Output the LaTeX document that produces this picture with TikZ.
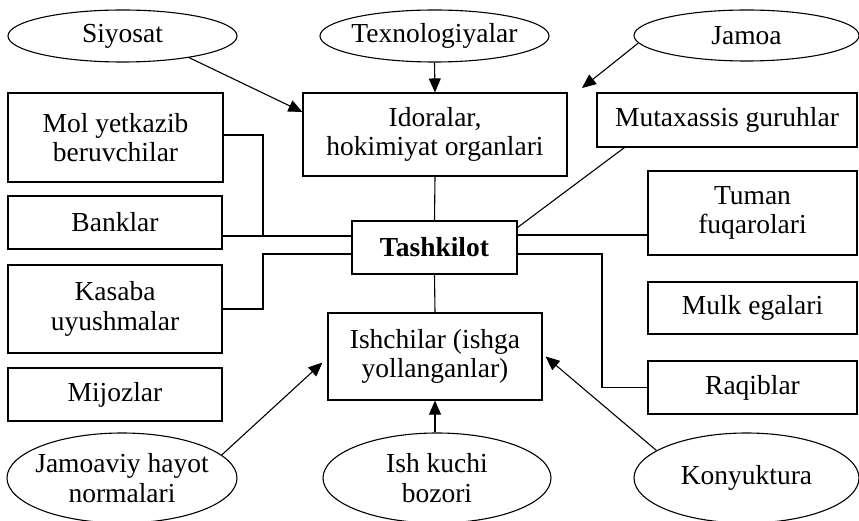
\documentclass[tikz,border=0pt]{standalone}
\usepackage{fontspec}
\setmainfont{Liberation Serif}
\usetikzlibrary{shapes.geometric,arrows.meta}

\begin{document}
\begin{tikzpicture}[x=1pt,y=-1pt,
  every node/.style={font=\fontsize{27.5}{29.5}\selectfont, align=center},
  line/.style={line width=1.1pt},
  arr/.style={line width=1.1pt, -{Triangle[length=14pt,width=12pt]}},
  box/.style={draw, rectangle, line width=1.1pt, inner sep=0pt},
  oval/.style={draw, ellipse, line width=1.1pt, inner sep=-8pt}]

\useasboundingbox (0,0) rectangle (859,521);

% outer influences (top row)
\node[oval, minimum width=229, minimum height=52] (siyosat) at (122.5,36) {Siyosat};
\node[oval, minimum width=229, minimum height=52] (texno) at (434.5,36) {Texnologiyalar};
\node[oval, minimum width=225, minimum height=51] (jamoa) at (746.5,35.5) {Jamoa};

% boxes
\node[box, minimum width=264, minimum height=83] (idoralar) at (435,134.5) {Idoralar,\\hokimiyat organlari};
\node[box, minimum width=260, minimum height=54] (mutax) at (727,120) {Mutaxassis guruhlar};
\node[box, minimum width=215, minimum height=89] (mol) at (115.5,137.5) {Mol yetkazib\\beruvchilar};
\node[box, minimum width=214, minimum height=53] (banklar) at (115,222.5) {Banklar};
\node[box, minimum width=214, minimum height=88] (kasaba) at (115,309) {Kasaba\\uyushmalar};
\node[box, minimum width=214, minimum height=53] (mijoz) at (115,394.5) {Mijozlar};
\node[box, minimum width=165, minimum height=53] (tashkilot) at (434.5,247.5) {\textbf{Tashkilot}};
\node[box, minimum width=214, minimum height=87] (ishchi) at (435,356.5) {Ishchilar (ishga\\yollanganlar)};
\node[box, minimum width=209, minimum height=84] (tuman) at (752.5,213) {Tuman\\fuqarolari};
\node[box, minimum width=209, minimum height=52] (mulk) at (752.5,308) {Mulk egalari};
\node[box, minimum width=209, minimum height=53] (raqib) at (752.5,387.5) {Raqiblar};

% outer influences (bottom row)
\node[oval, minimum width=230, minimum height=90] (jamoaviy) at (122,478) {Jamoaviy hayot\\normalari};
\node[oval, minimum width=228, minimum height=90] (ishkuchi) at (437,478) {Ish kuchi\\bozori};
\node[oval, minimum width=225, minimum height=90] (konyuk) at (746.5,478) {Konyuktura};

% junction points of the wiring
\coordinate (jtip) at (582,88);
\coordinate (L1) at (263,236);
\coordinate (L2) at (263,254);
\coordinate (R0) at (600,235);
\coordinate (R1) at (602,254);

% arrows into the offices
\draw[arr] (siyosat.-18) -- ([yshift=22.5pt]idoralar.west);
\draw[arr] (texno.south) -- (idoralar.north);
\draw[arr] (jamoa.-176) -- (jtip);

% links to the organisation
\draw[line] (idoralar.south) -- (tashkilot.north);
\draw[line] (tashkilot.south) -- (ishchi.north);
\draw[line] ([xshift=28pt]mutax.south west) -- ([yshift=-7pt]tashkilot.north east);
\draw[line] (banklar.east |- L1) -- (tashkilot.west |- L1);
\draw[line] ([yshift=2.5pt]mol.east) -| (L1);
\draw[line] (kasaba.east) -| (L2) -- (tashkilot.west |- L2);
\draw[line] (tashkilot.east |- R0) -- (tuman.west |- R0);
\draw[line] (tashkilot.east |- R1) -- (R1) |- (raqib.west);

% arrows into the workers
\draw[arr] (jamoaviy.13) -- ([xshift=-5pt,yshift=-6pt]ishchi.west);
\draw[arr] (ishchi.south |- ishkuchi.north) -- (ishchi.south);
\draw[arr] (konyuk.163.6) -- ([xshift=3pt]ishchi.east);

\end{tikzpicture}
\end{document}
